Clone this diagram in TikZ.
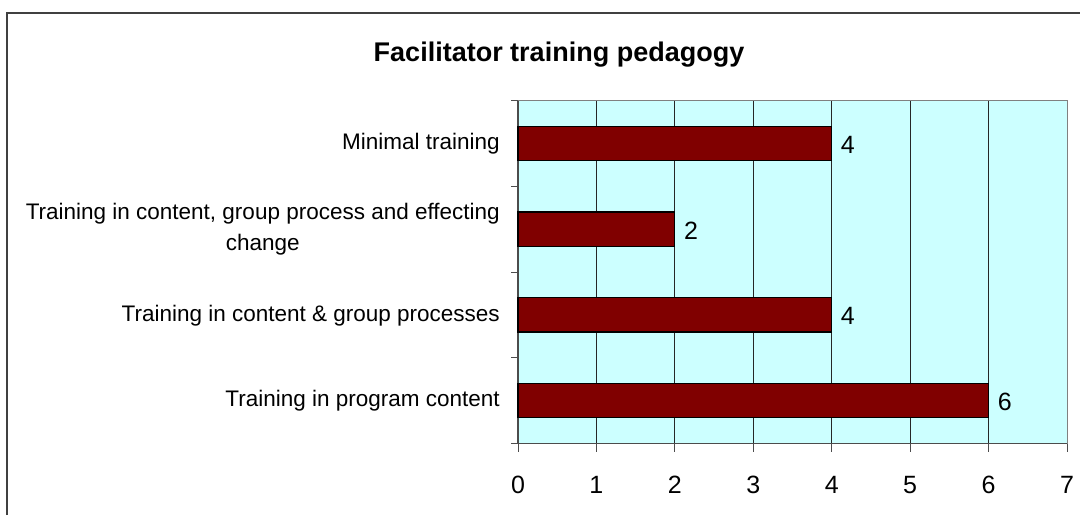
\documentclass[tikz,border=0pt]{standalone}
\usepackage{fontspec}
\setmainfont{Liberation Sans}
\usepackage{tikz}

\definecolor{plotcyan}{HTML}{CCFFFF}
\definecolor{barred}{HTML}{800000}

\begin{document}
\begin{tikzpicture}[x=1pt,y=-1pt,
	bar/.style={fill=barred, draw=black, line width=1.2pt},
	catlabel/.style={anchor=east, align=center, inner sep=0pt, font=\fontsize{22.5}{31.5}\selectfont},
	vallabel/.style={anchor=west, inner sep=0pt, font=\fontsize{25}{30}\selectfont},
	ticklabel/.style={anchor=base, inner sep=0pt, font=\fontsize{25}{30}\selectfont}]
	\useasboundingbox (0,0) rectangle (1080,515);
	%\draw[help lines] (0,0) grid[step=50] (1080,515);
	\draw[line width=2pt, black!75] (6.5,515) -- (6.5,12.5) -- (1080,12.5);
	\node[anchor=base, inner sep=0pt, font=\fontsize{27}{31}\selectfont\bfseries] (title) at (559,61.5) {Facilitator training pedagogy};
	% plot area
	\fill[plotcyan] (518,100.5) rectangle (1067,443.5);
	\foreach \i in {1,...,6}
		\draw[black!85, line width=0.9pt] ({518+\i*78.43},100.5) -- ({518+\i*78.43},443.5);
	\draw[gray, line width=1pt] (518,100.5) -- (1067,100.5) -- (1067,443.5);
	\draw[black!70, line width=1.2pt] (518,100.5) -- (518,443.5) -- (1067,443.5);
	\foreach \k in {0,...,4}
		\draw[black!70, line width=1pt] (511,{100.5+\k*85.75}) -- (518,{100.5+\k*85.75});
	\foreach \v in {0,...,7} {
		\draw[black!70, line width=1pt] ({518+\v*78.43},443.5) -- ({518+\v*78.43},452);
		\node[ticklabel] (t\v) at ({518+\v*78.43},493.5) {\v};
	}
	% bars
	\foreach \val/\yc/\name in {4/143.4/minimal, 2/229.1/change, 4/314.9/process, 6/400.6/content} {
		\draw[bar] (518,{\yc-17.15}) rectangle ({518+\val*78.43},{\yc+17.15});
		\node[vallabel, anchor=base west] (v-\name) at ({527+\val*78.43},{\yc+10}) {\val};
	}
	\node[catlabel] (c-minimal) at (500,144) {Minimal training};
	\node[catlabel] (c-change) at (500,229) {Training in content, group process and effecting\\change};
	\node[catlabel] (c-process) at (500,315.5) {Training in content \& group processes};
	\node[catlabel] (c-content) at (500,401) {Training in program content};
\end{tikzpicture}
\end{document}
